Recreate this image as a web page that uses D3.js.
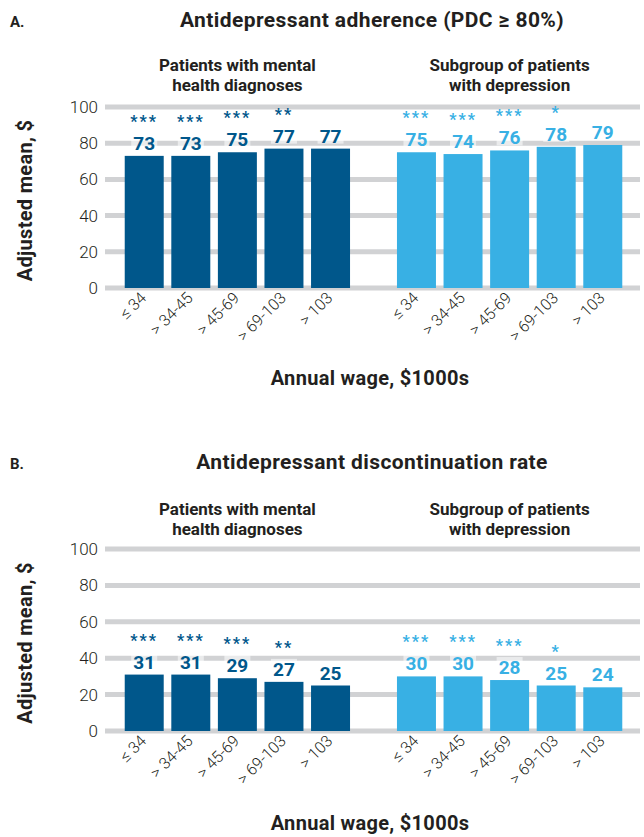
<!DOCTYPE html>
<html>
<head>
<meta charset="utf-8">
<script src="https://cdn.jsdelivr.net/npm/d3@7"></script>
<style>
  body { margin: 0; background: #fff; }
  svg { display: block; font-family: Roboto, "Noto Sans", sans-serif; }
</style>
</head>
<body>
<svg id="chart" width="644" height="837"></svg>
<script>
// categories and groups
const wages = ['≤ 34', '> 34-45', '> 45-69', '> 69-103', '> 103'];
const groups = ['Patients with mental|health diagnoses', 'Subgroup of patients|with depression'];
const yTicks = [0, 20, 40, 60, 80, 100];

// panel A: adherence
const adherenceMental = [73, 73, 75, 77, 77];
const adherenceDepression = [75, 74, 76, 78, 79];
// panel B: discontinuation
const discontMental = [31, 31, 29, 27, 25];
const discontDepression = [30, 30, 28, 25, 24];
// significance marks
const sigMental = ['***', '***', '***', '**', ''];
const sigDepression = ['***', '***', '***', '*', ''];

const darkBlue = '#00578b';
const lightBlue = '#38b0e4';
const textCol = '#231f20';

const svg = d3.select('#chart');

const x0 = d3.scaleBand().domain(groups).range([121, 626]).paddingInner(0.145);
const x1 = d3.scaleBand().domain(wages).range([0, x0.bandwidth()])
  .paddingInner(0.163).paddingOuter(0.08);

function drawPanel(opts) {
  const g = svg.append('g');
  const y = d3.scaleLinear().domain([0, 100]).range([opts.bottom, opts.top]);

  // letter + title
  g.append('text').attr('x', 10).attr('y', opts.titleY)
    .attr('font-size', 15).attr('font-weight', 700).attr('fill', textCol)
    .text(opts.letter);
  g.append('text').attr('x', 372).attr('y', opts.titleY)
    .attr('text-anchor', 'middle').attr('font-size', 21).attr('font-weight', 700)
    .attr('letter-spacing', 0.4)
    .attr('fill', textCol).text(opts.title);

  // group subtitles
  groups.forEach((grp) => {
    const lines = grp.split('|');
    g.append('text')
      .attr('text-anchor', 'middle').attr('font-size', 17).attr('font-weight', 700)
      .attr('fill', textCol)
      .selectAll('tspan').data(lines).join('tspan')
      .attr('x', x0(grp) + x0.bandwidth() / 2)
      .attr('y', (d, i) => opts.subY + i * 20)
      .text((d) => d);
  });

  // gridlines
  g.append('g').selectAll('line').data(yTicks).join('line')
    .attr('x1', 105).attr('x2', 640)
    .attr('y1', (d) => y(d)).attr('y2', (d) => y(d))
    .attr('stroke', '#d1d2d4').attr('stroke-width', 5);

  // y axis
  const yAxis = g.append('g').attr('transform', 'translate(98,0)')
    .call(d3.axisLeft(y).tickValues(yTicks).tickSize(0).tickPadding(0));
  yAxis.select('.domain').remove();
  yAxis.selectAll('text').attr('font-size', 17).attr('font-weight', 300)
    .attr('fill', textCol).attr('font-family', 'Roboto, sans-serif');

  g.append('text')
    .attr('transform', `translate(32,${(opts.top + opts.bottom) / 2 + 3}) rotate(-90)`)
    .attr('text-anchor', 'middle').attr('font-size', 20).attr('font-weight', 700)
    .attr('letter-spacing', 0.3)
    .attr('fill', textCol).text('Adjusted mean, $');

  // bars
  const series = [
    { grp: groups[0], vals: opts.mental, sig: sigMental, color: darkBlue },
    { grp: groups[1], vals: opts.depression, sig: sigDepression, color: lightBlue },
  ];
  series.forEach((s) => {
    const sg = g.append('g').attr('transform', `translate(${x0(s.grp)},0)`);
    const data = wages.map((w, i) => ({ w, v: s.vals[i], sig: s.sig[i] }));

    sg.selectAll('rect.bar').data(data).join('rect')
      .attr('class', 'bar')
      .attr('x', (d) => x1(d.w)).attr('width', x1.bandwidth())
      .attr('y', (d) => y(d.v)).attr('height', (d) => y(0) - y(d.v))
      .attr('fill', s.color);

    // label backgrounds
    sg.selectAll('rect.lbg').data(data).join('rect')
      .attr('class', 'lbg')
      .attr('x', (d) => x1(d.w) + x1.bandwidth() / 2 - 13)
      .attr('width', 26)
      .attr('y', (d) => y(d.v) - 23).attr('height', 18)
      .attr('fill', '#fff').attr('fill-opacity', 0.55);

    sg.selectAll('text.val').data(data).join('text')
      .attr('class', 'val')
      .attr('x', (d) => x1(d.w) + x1.bandwidth() / 2)
      .attr('y', (d) => y(d.v) - 6)
      .attr('text-anchor', 'middle').attr('font-size', 19).attr('font-weight', 700)
      .attr('fill', s.color).text((d) => d.v);

    sg.selectAll('text.sig').data(data).join('text')
      .attr('class', 'sig')
      .attr('x', (d) => x1(d.w) + x1.bandwidth() / 2)
      .attr('y', (d) => y(d.v) - 29)
      .attr('text-anchor', 'middle').attr('font-size', 16).attr('font-weight', 700)
      .attr('letter-spacing', 2)
      .attr('fill', s.color).text((d) => d.sig);

    // rotated wage labels
    sg.selectAll('text.cat').data(data).join('text')
      .attr('class', 'cat')
      .attr('transform', (d) => `translate(${x1(d.w) + x1.bandwidth() / 2 + 3},${opts.bottom + 11}) rotate(-45)`)
      .attr('text-anchor', 'end').attr('font-size', 16).attr('font-weight', 300)
      .attr('fill', textCol).text((d) => d.w);
  });

  g.append('text').attr('x', 370).attr('y', opts.axisTitleY)
    .attr('text-anchor', 'middle').attr('font-size', 20).attr('font-weight', 700)
    .attr('letter-spacing', 0.3)
    .attr('fill', textCol).text('Annual wage, $1000s');
}

drawPanel({
  letter: 'A.', title: 'Antidepressant adherence (PDC ≥ 80%)',
  titleY: 27, subY: 71, top: 107, bottom: 288, axisTitleY: 385,
  mental: adherenceMental, depression: adherenceDepression,
});
drawPanel({
  letter: 'B.', title: 'Antidepressant discontinuation rate',
  titleY: 469, subY: 515, top: 549, bottom: 731, axisTitleY: 830,
  mental: discontMental, depression: discontDepression,
});
</script>
</body>
</html>
